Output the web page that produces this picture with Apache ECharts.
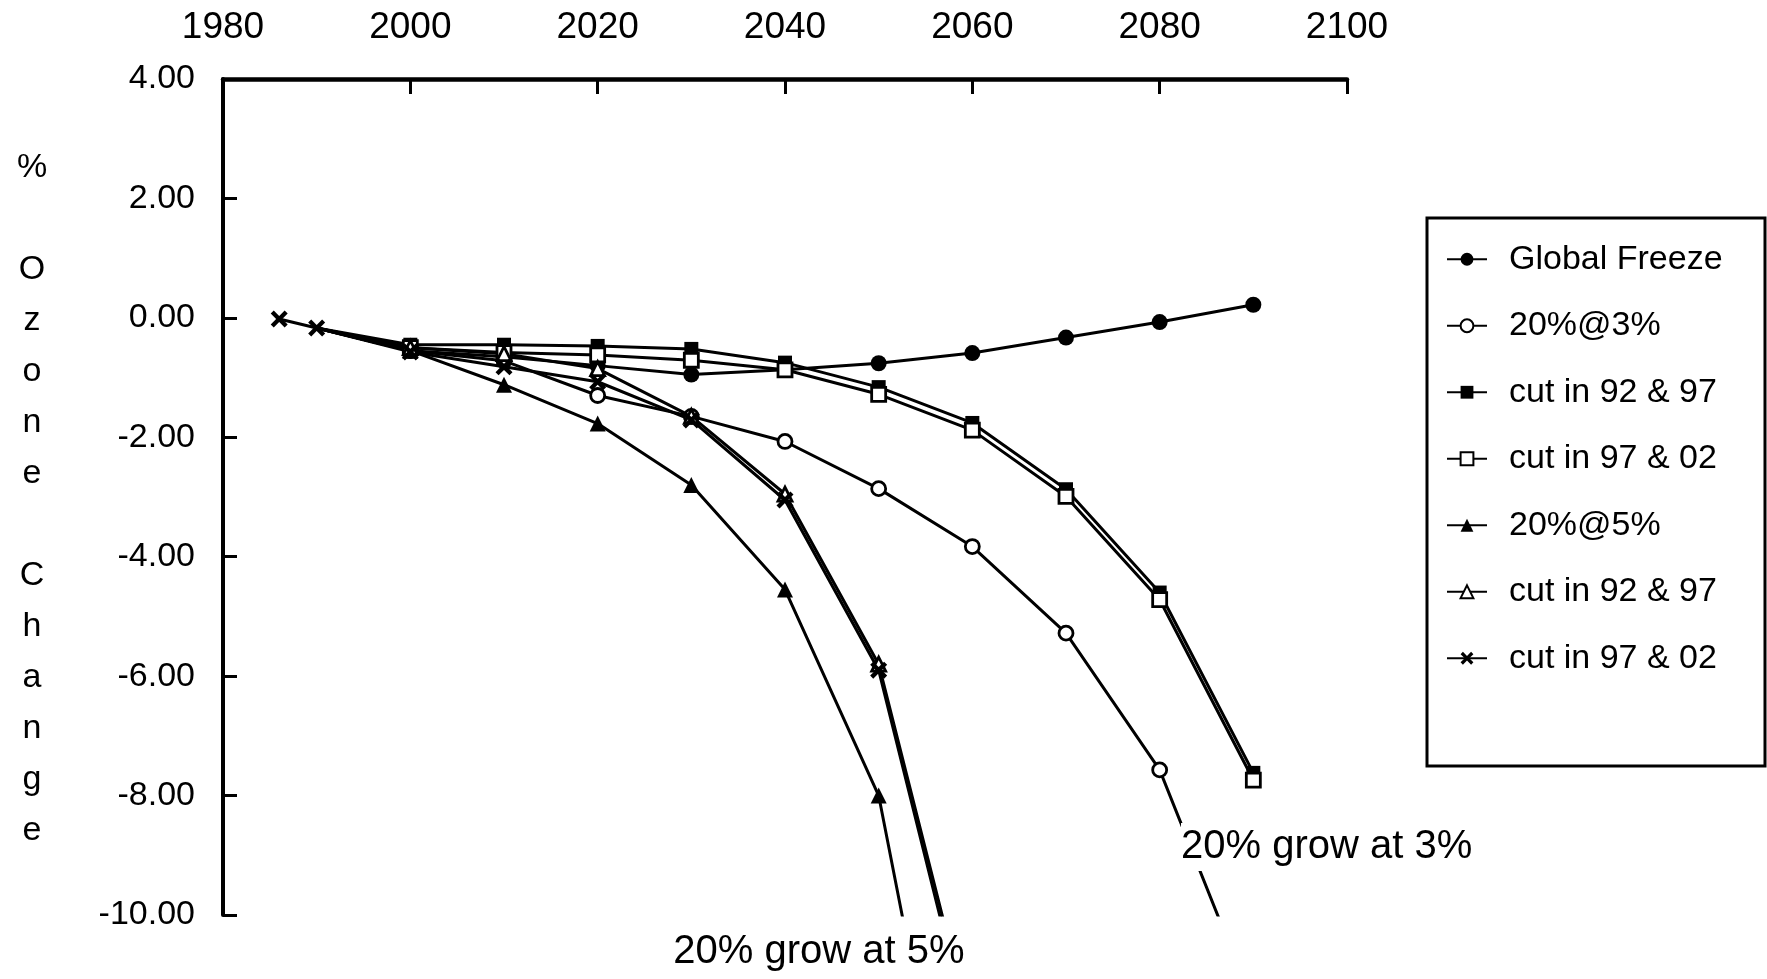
<!DOCTYPE html>
<html>
<head>
<meta charset="utf-8">
<script src="https://cdn.jsdelivr.net/npm/echarts@6/dist/echarts.min.js"></script>
<style>
html,body{margin:0;padding:0;background:#fff;}
#chart{width:1767px;height:979px;}
</style>
</head>
<body>
<div id="chart"></div>
<script>
// ---- data ----
const xTicks = [1980, 2000, 2020, 2040, 2060, 2080, 2100];
const yTicks = [4, 2, 0, -2, -4, -6, -8, -10];

const years3 = [1990, 2000, 2010, 2020, 2030, 2040, 2050, 2060, 2070, 2080, 2090];
const globalFreeze = [-0.17, -0.55, -0.65, -0.80, -0.95, -0.87, -0.76, -0.59, -0.33, -0.07, 0.22];
const grow3 = [-0.17, -0.55, -0.72, -1.30, -1.65, -2.07, -2.86, -3.83, -5.28, -7.57, -11.5];
const cut3a = [-0.17, -0.45, -0.45, -0.47, -0.52, -0.75, -1.16, -1.76, -2.87, -4.60, -7.62];
const cut3b = [-0.17, -0.50, -0.58, -0.62, -0.71, -0.87, -1.28, -1.88, -2.99, -4.72, -7.74];

const years5 = [1990, 2000, 2010, 2020, 2030, 2040, 2050, 2060];
const grow5 = [-0.17, -0.55, -1.12, -1.77, -2.80, -4.55, -8.00, -16.0];
const cut5a = [-0.17, -0.50, -0.60, -0.85, -1.65, -2.95, -5.80, -12.0];

const yearsX = [1986, 1990, 2000, 2010, 2020, 2030, 2040, 2050, 2060];
const cut5b = [-0.02, -0.17, -0.57, -0.82, -1.07, -1.71, -3.05, -5.90, -12.2];

const seriesNames = ['Global Freeze', '20%@3%', 'cut in 92 & 97', 'cut in 97 & 02', '20%@5%', 'cut in 92 & 97 ', 'cut in 97 & 02 '];
const annotations = ['20% grow at 3%', '20% grow at 5%'];
const yLabelText = '%\n\nO\nz\no\nn\ne\n\nC\nh\na\nn\ng\ne';

// ---- build ----
const FONT = 'Liberation Sans, Arial, Helvetica, sans-serif';
const X_PATH = 'path://M0,1.8L1.8,0L5,3.2L8.2,0L10,1.8L6.8,5L10,8.2L8.2,10L5,6.8L1.8,10L0,8.2L3.2,5Z';

function pts(xs, ys, hideBefore) {
  return xs.map((x, i) => {
    const item = { value: [x, ys[i]] };
    if (hideBefore && x < hideBefore) item.symbol = 'none';
    return item;
  });
}

function mk(name, xs, ys, symbol, size, filled, hide) {
  return {
    name: name,
    type: 'line',
    data: pts(xs, ys, hide),
    symbol: symbol,
    symbolSize: size,
    clip: true,
    lineStyle: { color: '#000', width: 3 },
    itemStyle: filled
      ? { color: '#000', borderColor: '#000', borderWidth: 0 }
      : { color: '#fff', borderColor: '#000', borderWidth: 2.8 },
    emphasis: { disabled: true },
    animation: false
  };
}

const series = [
  mk(seriesNames[0], years3, globalFreeze, 'circle', 16, true, 2000),
  mk(seriesNames[1], years3, grow3, 'circle', 14, false, 2000),
  mk(seriesNames[2], years3, cut3a, 'rect', 14, true, 2000),
  mk(seriesNames[3], years3, cut3b, 'rect', 14, false, 2000),
  mk(seriesNames[4], years5, grow5, 'triangle', 16, true, 2000),
  mk(seriesNames[5], years5, cut5a, 'triangle', 14, false, 2000),
  mk(seriesNames[6], yearsX, cut5b, X_PATH, 17, true, null)
];

const chart = echarts.init(document.getElementById('chart'), null, { renderer: 'canvas' });
chart.setOption({
  backgroundColor: '#fff',
  animation: false,
  grid: { left: 223, right: 420, top: 79, bottom: 64, containLabel: false },
  xAxis: {
    type: 'value', position: 'top',
    min: xTicks[0], max: xTicks[xTicks.length - 1], interval: 20,
    axisLine: { show: true, onZero: false, lineStyle: { color: '#000', width: 4.5 } },
    axisTick: { show: true, inside: true, length: 15, lineStyle: { color: '#000', width: 3 } },
    axisLabel: { show: true, color: '#000', fontSize: 37, fontFamily: FONT, margin: 33,
      formatter: v => String(v) },
    splitLine: { show: false }
  },
  yAxis: {
    type: 'value',
    min: yTicks[yTicks.length - 1], max: yTicks[0], interval: 2,
    axisLine: { show: true, onZero: false, lineStyle: { color: '#000', width: 4 } },
    axisTick: { show: true, inside: true, length: 14, lineStyle: { color: '#000', width: 3 } },
    axisLabel: { show: true, color: '#000', fontSize: 34, fontFamily: FONT, margin: 28,
      formatter: v => v.toFixed(2) },
    splitLine: { show: false }
  },
  legend: {
    orient: 'vertical',
    left: 1446, top: 242,
    padding: 0,
    itemWidth: 40, itemHeight: 16, itemGap: 32,
    selectedMode: false,
    data: seriesNames,
    textStyle: { color: '#000', fontSize: 34, fontFamily: FONT, lineHeight: 34.5, padding: [0, 0, 0, 17] }
  },
  graphic: [
    { type: 'rect', shape: { x: 1427, y: 218, width: 338, height: 548 },
      style: { fill: 'none', stroke: '#000', lineWidth: 3 }, z: 100 },
    { type: 'text', left: 12, top: 142,
      style: { text: yLabelText, fill: '#000', font: '34px ' + FONT, lineHeight: 51, textAlign: 'center', width: 40 }, z: 100 },
    { type: 'text', x: 1181, y: 847,
      style: { text: annotations[0], fill: '#000', font: '40px ' + FONT, textAlign: 'left', textVerticalAlign: 'middle',
        backgroundColor: '#fff', padding: [4, 0, 4, 0] }, z: 100 },
    { type: 'text', x: 819, y: 952,
      style: { text: annotations[1], fill: '#000', font: '40px ' + FONT, textAlign: 'center', textVerticalAlign: 'middle',
        backgroundColor: '#fff' }, z: 100 }
  ],
  series: series
});
</script>
</body>
</html>
